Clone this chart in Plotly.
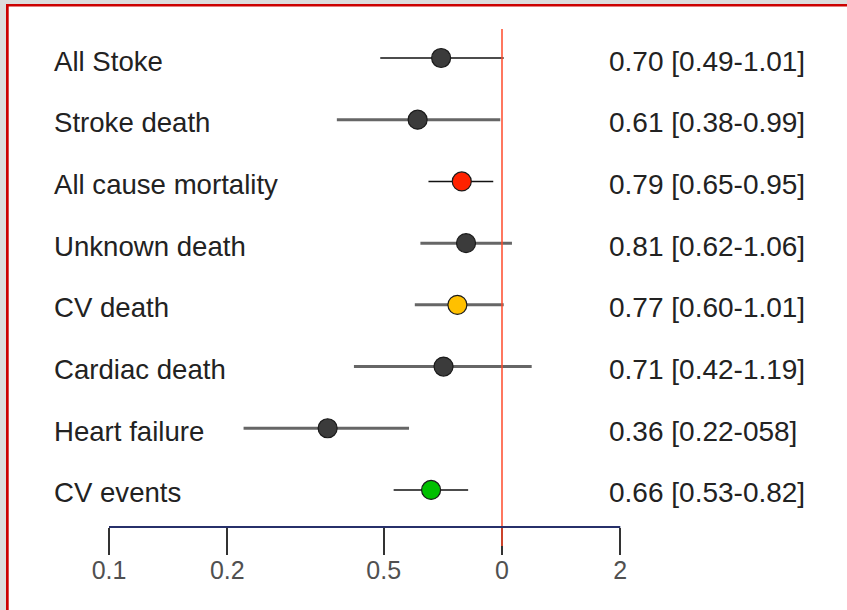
import math
import plotly.graph_objects as go

labels = ["All Stoke", "Stroke death", "All cause mortality", "Unknown death",
          "CV death", "Cardiac death", "Heart failure", "CV events"]
hr = [0.70, 0.61, 0.79, 0.81, 0.77, 0.71, 0.36, 0.66]
ci_lo = [0.49, 0.38, 0.65, 0.62, 0.60, 0.42, 0.22, 0.53]
ci_hi = [1.01, 0.99, 0.95, 1.06, 1.01, 1.19, 0.58, 0.82]
ci_text = ["0.70 [0.49-1.01]", "0.61 [0.38-0.99]", "0.79 [0.65-0.95]", "0.81 [0.62-1.06]",
           "0.77 [0.60-1.01]", "0.71 [0.42-1.19]", "0.36 [0.22-058]", "0.66 [0.53-0.82]"]
marker_colors = ["#3b3b3b", "#3b3b3b", "#ff2200", "#3b3b3b",
                 "#ffc000", "#3b3b3b", "#3b3b3b", "#00c000"]
line_thin = [True, False, True, False, False, False, False, True]
tick_vals = [0.1, 0.2, 0.5, 1, 2]
tick_text = ["0.1", "0.2", "0.5", "0", "2"]

W, H = 847, 610
B = 83
PH = H - B

fig = go.Figure()

for i in range(len(labels)):
    thin = line_thin[i]
    fig.add_trace(go.Scatter(
        x=[ci_lo[i], ci_hi[i]], y=[i, i], mode="lines",
        line=dict(color="#111111" if thin else "#666666", width=1.6 if thin else 3),
        hoverinfo="skip", showlegend=False))

fig.add_trace(go.Scatter(
    x=hr, y=list(range(len(labels))), mode="markers",
    marker=dict(size=19, color=marker_colors, line=dict(color="#1a1a1a", width=1.2)),
    showlegend=False))

annotations = []
for i, lab in enumerate(labels):
    annotations.append(dict(x=52 / W, xref="paper", y=i, yref="y", text=lab,
                            showarrow=False, xanchor="left", yanchor="middle", yshift=-3,
                            font=dict(family="Liberation Sans, Arial", size=27.6, color="#222222")))
    annotations.append(dict(x=607 / W, xref="paper", y=i, yref="y", text=ci_text[i],
                            showarrow=False, xanchor="left", yanchor="middle", yshift=-3,
                            font=dict(family="Liberation Sans, Arial", size=28, color="#222222")))

y_of = lambda px: (PH - px) / PH
shapes = [
    dict(type="line", xref="x", yref="paper", x0=1, x1=1, y0=y_of(546), y1=y_of(29),
         line=dict(color="#ff4a2a", width=1.5)),
    dict(type="line", xref="x", yref="paper", x0=tick_vals[0], x1=tick_vals[-1], y0=0, y1=0,
         line=dict(color="#27306a", width=2)),
    dict(type="rect", xref="paper", yref="paper", x0=0, x1=1, y0=y_of(4), y1=y_of(0),
         fillcolor="#dcdcdc", line=dict(width=0), layer="above"),
    dict(type="rect", xref="paper", yref="paper", x0=0, x1=6 / W, y0=y_of(H), y1=y_of(0),
         fillcolor="#dcdcdc", line=dict(width=0), layer="above"),
    dict(type="rect", xref="paper", yref="paper", x0=6 / W, x1=1, y0=y_of(6.5), y1=y_of(4),
         fillcolor="#cc0000", line=dict(width=0), layer="above"),
    dict(type="rect", xref="paper", yref="paper", x0=6 / W, x1=8.7 / W, y0=y_of(H), y1=y_of(4),
         fillcolor="#cc0000", line=dict(width=0), layer="above"),
]

px1, ppd = 502, 393
fig.update_layout(
    width=W, height=H, margin=dict(l=0, r=0, t=0, b=B),
    paper_bgcolor="white", plot_bgcolor="white",
    xaxis=dict(type="log", range=[-px1 / ppd, (W - px1) / ppd],
               tickvals=tick_vals, ticktext=tick_text, ticks="outside", ticklen=27,
               tickwidth=2, tickcolor="#333333", showgrid=False, zeroline=False,
               showline=False, ticklabelstandoff=-6,
               tickfont=dict(family="Liberation Sans Narrow, Arial Narrow, Liberation Sans", size=25, color="#505050")),
    yaxis=dict(range=[7.60, -0.94], showticklabels=False, showgrid=False,
               zeroline=False, showline=False, ticks=""),
    annotations=annotations, shapes=shapes,
)

fig.write_html("out.html")
